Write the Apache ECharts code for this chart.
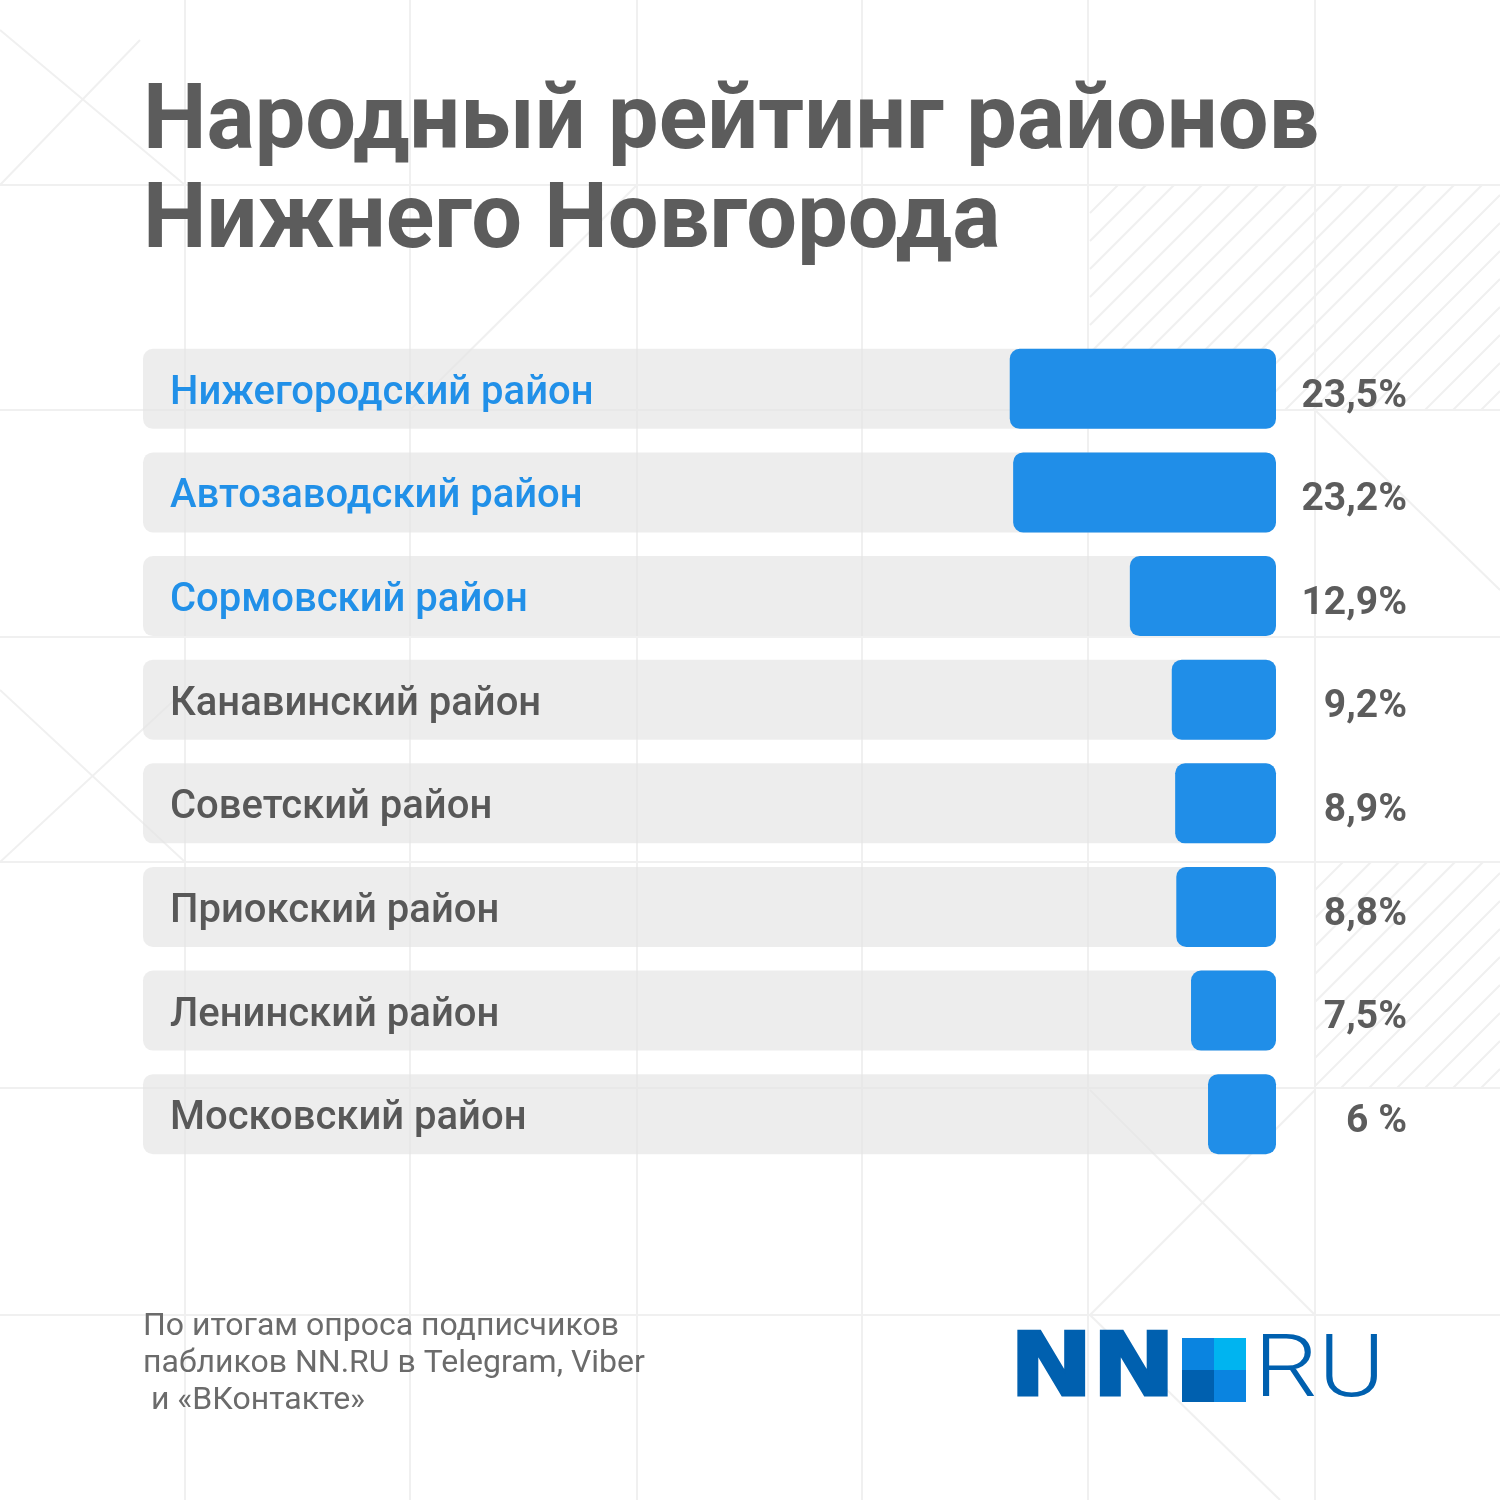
<!DOCTYPE html>
<html>
<head>
<meta charset="utf-8">
<script src="https://cdn.jsdelivr.net/npm/echarts@6/dist/echarts.min.js"></script>
<style>
html,body{margin:0;padding:0;background:#fff;}
#c{width:1500px;height:1500px;}
</style>
</head>
<body>
<div id="c"></div>
<script>
const categories = ['Нижегородский район','Автозаводский район','Сормовский район','Канавинский район','Советский район','Приокский район','Ленинский район','Московский район'];
const values = [23.5, 23.2, 12.9, 9.2, 8.9, 8.8, 7.5, 6];
const valueLabels = ['23,5%','23,2%','12,9%','9,2%','8,9%','8,8%','7,5%','6 %'];
const highlightCount = 3;
const titleLines = ['Народный рейтинг районов','Нижнего Новгорода'];
const footnoteLines = ['По итогам опроса подписчиков','пабликов NN.RU в Telegram, Viber',' и «ВКонтакте»'];

const chart = echarts.init(document.getElementById('c'), null, {renderer:'canvas'});

const lineColor = '#f0f0f0';
const bg = [];
[185, 410, 637, 862, 1088, 1315].forEach(function(p){
  bg.push({type:'line', z:-10, shape:{x1:0,y1:p,x2:1500,y2:p}, style:{stroke:lineColor,lineWidth:2}});
  bg.push({type:'line', z:-10, shape:{x1:p,y1:0,x2:p,y2:1500}, style:{stroke:lineColor,lineWidth:2}});
});
[[0,30,185,185],[0,185,140,40],[0,690,185,862],[0,862,185,690],[1090,1090,1315,1315],[1315,1090,1090,1315],[1315,410,1500,590],[1090,1315,1280,1500],[410,410,637,185]].forEach(function(d){
  bg.push({type:'line', z:-10, shape:{x1:d[0],y1:d[1],x2:d[2],y2:d[3]}, style:{stroke:lineColor,lineWidth:2}});
});
function hatch(x0,y0,x1,y1,step){
  for(let k=x0-(y1-y0); k<x1; k+=step){
    let xa=k, ya=y1, xb=k+(y1-y0), yb=y0;
    if(xa<x0){ ya = y1-(x0-xa); xa=x0; }
    if(xb>x1){ yb = y0+(xb-x1); xb=x1; }
    if(ya<=yb) continue;
    bg.push({type:'line', z:-10, shape:{x1:xa,y1:ya,x2:xb,y2:yb}, style:{stroke:lineColor,lineWidth:2}});
  }
}
hatch(1090,185,1500,410,28);
hatch(1315,862,1500,1088,28);

const texts = [];
titleLines.forEach(function(t,i){
  texts.push({type:'text', x:143, y:125+i*99, style:{text:t, font:'bold 90px Roboto', fill:'#5c5c5c', verticalAlign:'middle'}});
});
footnoteLines.forEach(function(t,i){
  texts.push({type:'text', x:143, y:1327+i*37, style:{text:t, font:'32px Roboto', fill:'#6b6b6b', verticalAlign:'middle'}});
});
texts.push({type:'text', x:1010, y:1372, scaleX:1.12, style:{text:'NN', font:'bold 88px "DejaVu Sans"', fill:'#0060af', verticalAlign:'middle', stroke:'#0060af', lineWidth:3}});
texts.push({type:'rect', shape:{x:1182,y:1338,width:32,height:32}, style:{fill:'#0a84e0'}});
texts.push({type:'rect', shape:{x:1214,y:1338,width:32,height:32}, style:{fill:'#00b4f0'}});
texts.push({type:'rect', shape:{x:1182,y:1370,width:32,height:32}, style:{fill:'#0060af'}});
texts.push({type:'rect', shape:{x:1214,y:1370,width:32,height:32}, style:{fill:'#0a84e0'}});
texts.push({type:'text', x:1254, y:1374, scaleX:1.15, style:{text:'RU', font:'300 88px Roboto', fill:'#0060af', verticalAlign:'middle'}});

const option = {
  backgroundColor:'#ffffff',
  animation:false,
  graphic: bg.concat(texts),
  grid:{left:143, right:224, top:337, bottom:334, containLabel:false},
  xAxis:{type:'value', min:0, max:100, inverse:true, show:false},
  yAxis:[{
    type:'category', data:categories, inverse:true, position:'left', z:10,
    axisLine:{show:false, onZero:false}, axisTick:{show:false}, splitLine:{show:false},
    axisLabel:{
      inside:true, margin:27, align:'left',
      formatter:function(v, i){ return (i < highlightCount ? '{b|' : '{g|') + v + '}'; },
      rich:{
        b:{color:'#2190e8', fontSize:40, fontWeight:500, fontFamily:'Roboto', padding:[10,0,0,0]},
        g:{color:'#585858', fontSize:40, fontWeight:500, fontFamily:'Roboto', padding:[10,0,0,0]}
      }
    }
  },{
    type:'category', data:valueLabels, inverse:true, position:'right', z:10,
    axisLine:{show:false, onZero:false}, axisTick:{show:false}, splitLine:{show:false},
    axisLabel:{
      margin:131, align:'right',
      formatter:function(v){ return '{v|' + v + '}'; },
      rich:{ v:{color:'#5c5c5c', fontSize:39, fontWeight:'bold', fontFamily:'Roboto', padding:[16,0,0,0]} }
    }
  }],
  series:[{
    type:'bar', data:values, yAxisIndex:0, barWidth:80,
    itemStyle:{color:'#208ee8', borderRadius:10},
    showBackground:true,
    backgroundStyle:{color:'rgba(228,228,228,0.68)', borderRadius:10}
  }]
};
chart.setOption(option);
</script>
</body>
</html>
